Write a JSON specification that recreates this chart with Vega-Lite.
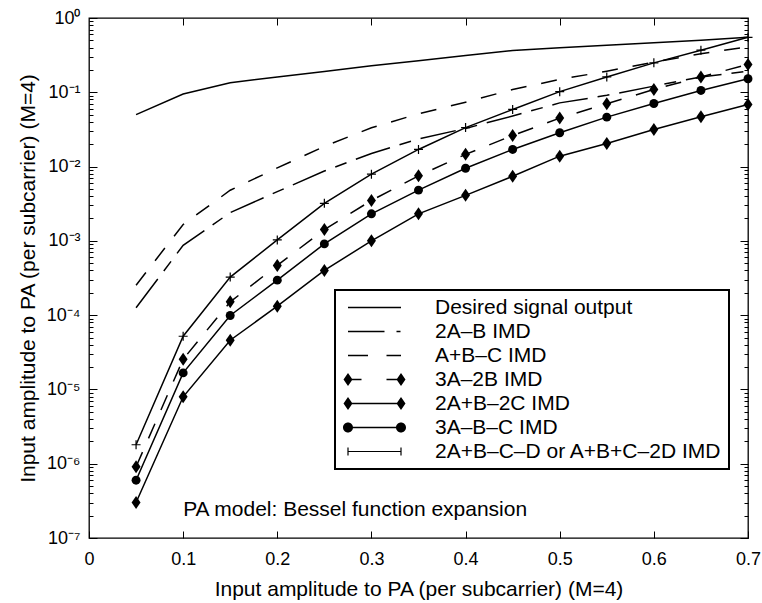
{
  "$schema": "https://vega.github.io/schema/vega-lite/v6.json",
  "width": 659,
  "height": 520,
  "autosize": {"type": "none"},
  "padding": {"left": 89, "top": 18, "right": 14, "bottom": 65},
  "background": "white",
  "config": {
    "font": "Liberation Sans",
    "view": {"stroke": "black", "strokeWidth": 1.3},
    "axis": {"labelColor": "black", "titleColor": "black", "tickColor": "black", "tickWidth": 1, "domain": false, "grid": false, "labelFont": "Liberation Sans", "titleFont": "Liberation Sans", "titleFontWeight": "normal"},
    "legend": {"strokeWidth": 2}
  },
  "data": {"values": [
    {"s": "Desired signal output", "x": 0.05, "y": 0.05},
    {"s": "Desired signal output", "x": 0.1, "y": 0.095},
    {"s": "Desired signal output", "x": 0.15, "y": 0.134},
    {"s": "Desired signal output", "x": 0.2, "y": 0.161},
    {"s": "Desired signal output", "x": 0.25, "y": 0.19},
    {"s": "Desired signal output", "x": 0.3, "y": 0.227},
    {"s": "Desired signal output", "x": 0.35, "y": 0.266},
    {"s": "Desired signal output", "x": 0.4, "y": 0.312},
    {"s": "Desired signal output", "x": 0.45, "y": 0.365},
    {"s": "Desired signal output", "x": 0.5, "y": 0.397},
    {"s": "Desired signal output", "x": 0.55, "y": 0.43},
    {"s": "Desired signal output", "x": 0.6, "y": 0.463},
    {"s": "Desired signal output", "x": 0.65, "y": 0.503},
    {"s": "Desired signal output", "x": 0.7, "y": 0.552},
    {"s": "2A–B IMD", "x": 0.05, "y": 0.000126},
    {"s": "2A–B IMD", "x": 0.1, "y": 0.00087},
    {"s": "2A–B IMD", "x": 0.15, "y": 0.0024},
    {"s": "2A–B IMD", "x": 0.2, "y": 0.0046},
    {"s": "2A–B IMD", "x": 0.25, "y": 0.0087},
    {"s": "2A–B IMD", "x": 0.3, "y": 0.015},
    {"s": "2A–B IMD", "x": 0.35, "y": 0.0236},
    {"s": "2A–B IMD", "x": 0.4, "y": 0.0326},
    {"s": "2A–B IMD", "x": 0.45, "y": 0.048},
    {"s": "2A–B IMD", "x": 0.5, "y": 0.072},
    {"s": "2A–B IMD", "x": 0.55, "y": 0.091},
    {"s": "2A–B IMD", "x": 0.6, "y": 0.121},
    {"s": "2A–B IMD", "x": 0.65, "y": 0.161},
    {"s": "2A–B IMD", "x": 0.7, "y": 0.192},
    {"s": "A+B–C IMD", "x": 0.05, "y": 0.000253},
    {"s": "A+B–C IMD", "x": 0.1, "y": 0.00166},
    {"s": "A+B–C IMD", "x": 0.15, "y": 0.0048},
    {"s": "A+B–C IMD", "x": 0.2, "y": 0.0096},
    {"s": "A+B–C IMD", "x": 0.25, "y": 0.0187},
    {"s": "A+B–C IMD", "x": 0.3, "y": 0.0333},
    {"s": "A+B–C IMD", "x": 0.35, "y": 0.0513},
    {"s": "A+B–C IMD", "x": 0.4, "y": 0.0736},
    {"s": "A+B–C IMD", "x": 0.45, "y": 0.109},
    {"s": "A+B–C IMD", "x": 0.5, "y": 0.149},
    {"s": "A+B–C IMD", "x": 0.55, "y": 0.192},
    {"s": "A+B–C IMD", "x": 0.6, "y": 0.255},
    {"s": "A+B–C IMD", "x": 0.65, "y": 0.33},
    {"s": "A+B–C IMD", "x": 0.7, "y": 0.41},
    {"s": "3A–2B IMD", "x": 0.05, "y": 9.1e-7},
    {"s": "3A–2B IMD", "x": 0.1, "y": 0.0000255},
    {"s": "3A–2B IMD", "x": 0.15, "y": 0.000151},
    {"s": "3A–2B IMD", "x": 0.2, "y": 0.000467},
    {"s": "3A–2B IMD", "x": 0.25, "y": 0.00142},
    {"s": "3A–2B IMD", "x": 0.3, "y": 0.0035},
    {"s": "3A–2B IMD", "x": 0.35, "y": 0.0075},
    {"s": "3A–2B IMD", "x": 0.4, "y": 0.0146},
    {"s": "3A–2B IMD", "x": 0.45, "y": 0.0262},
    {"s": "3A–2B IMD", "x": 0.5, "y": 0.0449},
    {"s": "3A–2B IMD", "x": 0.55, "y": 0.07},
    {"s": "3A–2B IMD", "x": 0.6, "y": 0.109},
    {"s": "3A–2B IMD", "x": 0.65, "y": 0.161},
    {"s": "3A–2B IMD", "x": 0.7, "y": 0.237},
    {"s": "2A+B–2C IMD", "x": 0.05, "y": 3.0e-7},
    {"s": "2A+B–2C IMD", "x": 0.1, "y": 0.00000796},
    {"s": "2A+B–2C IMD", "x": 0.15, "y": 0.000046},
    {"s": "2A+B–2C IMD", "x": 0.2, "y": 0.000132},
    {"s": "2A+B–2C IMD", "x": 0.25, "y": 0.0004},
    {"s": "2A+B–2C IMD", "x": 0.3, "y": 0.001},
    {"s": "2A+B–2C IMD", "x": 0.35, "y": 0.00231},
    {"s": "2A+B–2C IMD", "x": 0.4, "y": 0.0041},
    {"s": "2A+B–2C IMD", "x": 0.45, "y": 0.0074},
    {"s": "2A+B–2C IMD", "x": 0.5, "y": 0.0138},
    {"s": "2A+B–2C IMD", "x": 0.55, "y": 0.0205},
    {"s": "2A+B–2C IMD", "x": 0.6, "y": 0.0316},
    {"s": "2A+B–2C IMD", "x": 0.65, "y": 0.0468},
    {"s": "2A+B–2C IMD", "x": 0.7, "y": 0.0685},
    {"s": "3A–B–C IMD", "x": 0.05, "y": 6.0e-7},
    {"s": "3A–B–C IMD", "x": 0.1, "y": 0.0000167},
    {"s": "3A–B–C IMD", "x": 0.15, "y": 0.000099},
    {"s": "3A–B–C IMD", "x": 0.2, "y": 0.000296},
    {"s": "3A–B–C IMD", "x": 0.25, "y": 0.00091},
    {"s": "3A–B–C IMD", "x": 0.3, "y": 0.00231},
    {"s": "3A–B–C IMD", "x": 0.35, "y": 0.00482},
    {"s": "3A–B–C IMD", "x": 0.4, "y": 0.0095},
    {"s": "3A–B–C IMD", "x": 0.45, "y": 0.017},
    {"s": "3A–B–C IMD", "x": 0.5, "y": 0.0285},
    {"s": "3A–B–C IMD", "x": 0.55, "y": 0.0463},
    {"s": "3A–B–C IMD", "x": 0.6, "y": 0.0707},
    {"s": "3A–B–C IMD", "x": 0.65, "y": 0.106},
    {"s": "3A–B–C IMD", "x": 0.7, "y": 0.152},
    {"s": "2A+B–C–D or A+B+C–2D IMD", "x": 0.05, "y": 0.0000018},
    {"s": "2A+B–C–D or A+B+C–2D IMD", "x": 0.1, "y": 0.000052},
    {"s": "2A+B–C–D or A+B+C–2D IMD", "x": 0.15, "y": 0.000325},
    {"s": "2A+B–C–D or A+B+C–2D IMD", "x": 0.2, "y": 0.00103},
    {"s": "2A+B–C–D or A+B+C–2D IMD", "x": 0.25, "y": 0.0032},
    {"s": "2A+B–C–D or A+B+C–2D IMD", "x": 0.3, "y": 0.0079},
    {"s": "2A+B–C–D or A+B+C–2D IMD", "x": 0.35, "y": 0.017},
    {"s": "2A+B–C–D or A+B+C–2D IMD", "x": 0.4, "y": 0.0335},
    {"s": "2A+B–C–D or A+B+C–2D IMD", "x": 0.45, "y": 0.0587},
    {"s": "2A+B–C–D or A+B+C–2D IMD", "x": 0.5, "y": 0.102},
    {"s": "2A+B–C–D or A+B+C–2D IMD", "x": 0.55, "y": 0.161},
    {"s": "2A+B–C–D or A+B+C–2D IMD", "x": 0.6, "y": 0.249},
    {"s": "2A+B–C–D or A+B+C–2D IMD", "x": 0.65, "y": 0.369},
    {"s": "2A+B–C–D or A+B+C–2D IMD", "x": 0.7, "y": 0.55}
  ]},
  "layer": [
    {
      "transform": [{"filter": "datum.s == 'Desired signal output' || datum.s == '2A+B–2C IMD' || datum.s == '3A–B–C IMD' || datum.s == '2A+B–C–D or A+B+C–2D IMD'"}],
      "mark": {"type": "line", "color": "black", "strokeWidth": 1.5},
      "encoding": {
        "x": {"field": "x", "type": "quantitative", "scale": {"domain": [0, 0.7], "nice": false, "zero": false},
          "axis": {"orient": "bottom", "values": [0, 0.1, 0.2, 0.3, 0.4, 0.5, 0.6, 0.7], "format": "~g", "labelFontSize": 18, "labelPadding": 19, "tickSize": -7, "labelFlush": false, "labelOverlap": false,
            "title": "Input amplitude to PA (per subcarrier) (M=4)", "titleFontSize": 21, "titlePadding": 10}},
        "y": {"field": "y", "type": "quantitative", "scale": {"type": "log", "domain": [1e-7, 1], "nice": false},
          "axis": {"orient": "left", "values": [1e-7,2e-7,3e-7,4e-7,5e-7,6e-7,7e-7,8e-7,9e-7,1e-6,2e-6,3e-6,4e-6,5e-6,6e-6,7e-6,8e-6,9e-6,1e-5,2e-5,3e-5,4e-5,5e-5,6e-5,7e-5,8e-5,9e-5,1e-4,2e-4,3e-4,4e-4,5e-4,6e-4,7e-4,8e-4,9e-4,0.001,0.002,0.003,0.004,0.005,0.006,0.007,0.008,0.009,0.01,0.02,0.03,0.04,0.05,0.06,0.07,0.08,0.09,0.1,0.2,0.3,0.4,0.5,0.6,0.7,0.8,0.9,1],
            "labelExpr": "abs(log(datum.value)/LN10 - round(log(datum.value)/LN10)) > 0.001 ? '' : (round(log(datum.value)/LN10) == 0 ? '10⁰' : '10⁻' + ['⁰','¹','²','³','⁴','⁵','⁶','⁷','⁸'][-round(log(datum.value)/LN10)])",
            "labelFontSize": 18, "labelPadding": 17, "labelOverlap": false, "labelFlush": false,
            "tickSize": {"condition": {"test": "abs(log(datum.value)/LN10 - round(log(datum.value)/LN10)) < 0.001", "value": -8}, "value": -4},
            "title": "Input amplitude to PA (per subcarrier) (M=4)", "titleFontSize": 21, "titlePadding": 8}},
        "detail": {"field": "s", "type": "nominal"}
      }
    },
    {
      "transform": [{"filter": "datum.s == '2A–B IMD'"}],
      "mark": {"type": "line", "color": "black", "strokeWidth": 1.5, "strokeDash": [36, 10, 12, 10]},
      "encoding": {
        "x": {"field": "x", "type": "quantitative", "scale": {"domain": [0, 0.7], "nice": false, "zero": false}, "axis": null},
        "y": {"field": "y", "type": "quantitative", "scale": {"type": "log", "domain": [1e-7, 1], "nice": false}, "axis": null}
      }
    },
    {
      "transform": [{"filter": "datum.s == 'A+B–C IMD' || datum.s == '3A–2B IMD'"}],
      "mark": {"type": "line", "color": "black", "strokeWidth": 1.5, "strokeDash": [16, 15]},
      "encoding": {
        "x": {"field": "x", "type": "quantitative", "scale": {"domain": [0, 0.7], "nice": false, "zero": false}, "axis": null},
        "y": {"field": "y", "type": "quantitative", "scale": {"type": "log", "domain": [1e-7, 1], "nice": false}, "axis": null},
        "detail": {"field": "s", "type": "nominal"}
      }
    },
    {
      "transform": [{"filter": "datum.s == '3A–2B IMD' || datum.s == '2A+B–2C IMD'"}],
      "mark": {"type": "point", "shape": "M0,-1L0.69,0L0,1L-0.69,0Z", "size": 169, "filled": true, "color": "black", "opacity": 1},
      "encoding": {
        "x": {"field": "x", "type": "quantitative", "scale": {"domain": [0, 0.7], "nice": false, "zero": false},
          "axis": {"orient": "top", "values": [0.1, 0.2, 0.3, 0.4, 0.5, 0.6], "labels": false, "tickSize": -7, "title": null}},
        "y": {"field": "y", "type": "quantitative", "scale": {"type": "log", "domain": [1e-7, 1], "nice": false},
          "axis": {"orient": "right", "values": [1e-7,2e-7,3e-7,4e-7,5e-7,6e-7,7e-7,8e-7,9e-7,1e-6,2e-6,3e-6,4e-6,5e-6,6e-6,7e-6,8e-6,9e-6,1e-5,2e-5,3e-5,4e-5,5e-5,6e-5,7e-5,8e-5,9e-5,1e-4,2e-4,3e-4,4e-4,5e-4,6e-4,7e-4,8e-4,9e-4,0.001,0.002,0.003,0.004,0.005,0.006,0.007,0.008,0.009,0.01,0.02,0.03,0.04,0.05,0.06,0.07,0.08,0.09,0.1,0.2,0.3,0.4,0.5,0.6,0.7,0.8,0.9,1],
            "labels": false, "title": null,
            "tickSize": {"condition": {"test": "abs(log(datum.value)/LN10 - round(log(datum.value)/LN10)) < 0.001", "value": -8}, "value": -4}}}
      }
    },
    {
      "transform": [{"filter": "datum.s == '3A–B–C IMD'"}],
      "mark": {"type": "point", "shape": "circle", "size": 80, "filled": true, "color": "black", "opacity": 1},
      "encoding": {
        "x": {"field": "x", "type": "quantitative", "scale": {"domain": [0, 0.7], "nice": false, "zero": false}, "axis": null},
        "y": {"field": "y", "type": "quantitative", "scale": {"type": "log", "domain": [1e-7, 1], "nice": false}, "axis": null}
      }
    },
    {
      "transform": [{"filter": "datum.s == '2A+B–C–D or A+B+C–2D IMD'"}],
      "mark": {"type": "point", "shape": "M-1,0L1,0M0,-1L0,1", "size": 81, "filled": false, "color": "black", "strokeWidth": 1.2, "opacity": 1},
      "encoding": {
        "x": {"field": "x", "type": "quantitative", "scale": {"domain": [0, 0.7], "nice": false, "zero": false}, "axis": null},
        "y": {"field": "y", "type": "quantitative", "scale": {"type": "log", "domain": [1e-7, 1], "nice": false}, "axis": null}
      }
    },
    {
      "transform": [{"filter": "datum.x < 0"}],
      "mark": {"type": "point", "filled": true, "color": "black", "strokeWidth": 1.5},
      "encoding": {
        "x": {"field": "x", "type": "quantitative", "scale": {"domain": [0, 0.7], "nice": false, "zero": false}, "axis": null},
        "y": {"field": "y", "type": "quantitative", "scale": {"type": "log", "domain": [1e-7, 1], "nice": false}, "axis": null},
        "shape": {"field": "s", "type": "nominal",
          "scale": {"domain": ["Desired signal output", "2A–B IMD", "A+B–C IMD", "3A–2B IMD", "2A+B–2C IMD", "3A–B–C IMD", "2A+B–C–D or A+B+C–2D IMD"],
            "range": [
              "M-5.3,-0.15H5.3V0.15H-5.3Z",
              "M-5.3,-0.15H2V0.15H-5.3ZM4.4,-0.15H5.2V0.15H4.4Z",
              "M-5.3,-0.15H-1.3V0.15H-5.3ZM2.4,-0.15H5.3V0.15H2.4Z",
              "M-5.3,-0.15H-2.6V0.15H-5.3ZM2.4,-0.15H5.3V0.15H2.4ZM-5.3,-1.3L-4.4,0L-5.3,1.3L-6.2,0ZM5.3,-1.3L6.2,0L5.3,1.3L4.4,0Z",
              "M-5.3,-0.15H5.3V0.15H-5.3ZM-5.3,-1.3L-4.4,0L-5.3,1.3L-6.2,0ZM5.3,-1.3L6.2,0L5.3,1.3L4.4,0Z",
              "M-5.3,-0.15H5.3V0.15H-5.3ZM-4.3,0A1,1,0,1,1,-6.3,0A1,1,0,1,1,-4.3,0ZM6.3,0A1,1,0,1,1,4.3,0A1,1,0,1,1,6.3,0Z",
              "M-5.3,-0.12H5.3V0.12H-5.3ZM-5.42,-0.8H-5.18V0.8H-5.42ZM5.18,-0.8H5.42V0.8H5.18Z"
            ]},
          "legend": {"orient": "none", "legendX": 246, "legendY": 272, "title": null, "padding": 7, "rowPadding": 2,
            "symbolSize": 100, "symbolStrokeWidth": 1.5, "symbolOpacity": 1,
            "symbolOffset": 22, "labelOffset": 50, "labelFontSize": 21, "labelFont": "Liberation Sans", "labelColor": "black", "labelLimit": 0,
            "strokeColor": "black", "fillColor": "white"}
        }
      }
    },
    {
      "data": {"values": [{"x": 0.1, "y": 2.4e-7, "t": "PA model: Bessel function expansion"}]},
      "mark": {"type": "text", "align": "left", "baseline": "middle", "fontSize": 21, "font": "Liberation Sans", "color": "black"},
      "encoding": {
        "x": {"field": "x", "type": "quantitative", "scale": {"domain": [0, 0.7], "nice": false, "zero": false}, "axis": null},
        "y": {"field": "y", "type": "quantitative", "scale": {"type": "log", "domain": [1e-7, 1], "nice": false}, "axis": null},
        "text": {"field": "t"}
      }
    }
  ],
  "resolve": {"axis": {"x": "independent", "y": "independent"}}
}
